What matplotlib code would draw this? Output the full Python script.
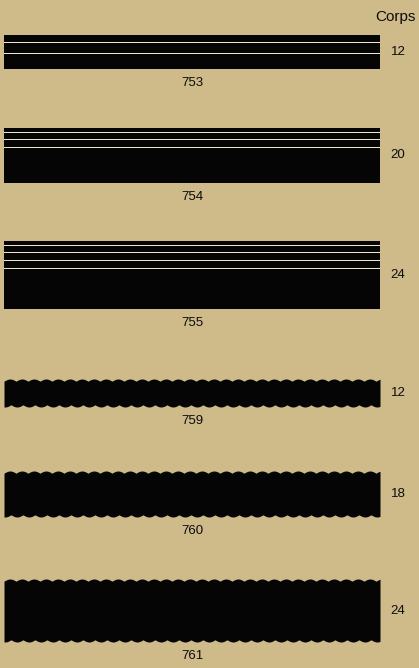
import numpy as np
import matplotlib.pyplot as plt

# specimen page: rules (filets) with their corps size
numbers = ['753', '754', '755', '759', '760', '761']
corps = [12, 20, 24, 12, 18, 24]
thickness = [34, 55, 68, 28, 46, 63]          # rule thickness, px
hairlines = [[7, 18], [4, 11, 19], [4, 11, 19, 27], [], [], []]  # white lines, px from top
wavy = [False, False, False, True, True, True]

# layout
W, H = 419, 668
x0, x1 = 4, 380
first_top = 35
gaps = [59, 58, 70, 64, 62]
bg = '#cfba89'

fig = plt.figure(figsize=(W / 100, H / 100), dpi=100)
fig.patch.set_facecolor(bg)
ax = fig.add_axes([0, 0, 1, 1])
ax.set_facecolor(bg)
ax.set_xlim(0, W)
ax.set_ylim(H, 0)
ax.axis('off')

ax.text(395, 17, 'Corps', ha='center', va='center', fontsize=11,
        family='Liberation Sans', color='#0c0c0c')

xs = np.linspace(x0, x1, 1500)
top = first_top
for i, num in enumerate(numbers):
    bottom = top + thickness[i]
    if wavy[i]:
        # scalloped edges: rounded bumps with small cusps between them
        bump_t = np.abs(np.sin(np.pi * (xs - x0) / 12.0))
        bump_b = np.abs(np.sin(np.pi * (xs - x0 + 5) / 12.0))
        ax.fill_between(xs, top + 2.2 - 2.2 * bump_t, bottom - 2.2 + 2.2 * bump_b,
                        color='#050505', lw=0)
    else:
        ax.fill_between([x0, x1], top, bottom, color='#050505', lw=0)
        for h in hairlines[i]:
            ax.fill_between([x0, x1], top + h - 0.5, top + h + 0.5, color='#efe6cc', lw=0)
    ax.text(192, bottom + 14, num, ha='center', va='center', fontsize=9.5,
            family='Liberation Sans', color='#0c0c0c')
    ax.text(398, (top + bottom) / 2, str(corps[i]), ha='center', va='center',
            fontsize=9.5, family='Liberation Sans', color='#0c0c0c')
    if i < len(gaps):
        top = bottom + gaps[i]

plt.savefig('out.png', dpi=100, facecolor=bg)
